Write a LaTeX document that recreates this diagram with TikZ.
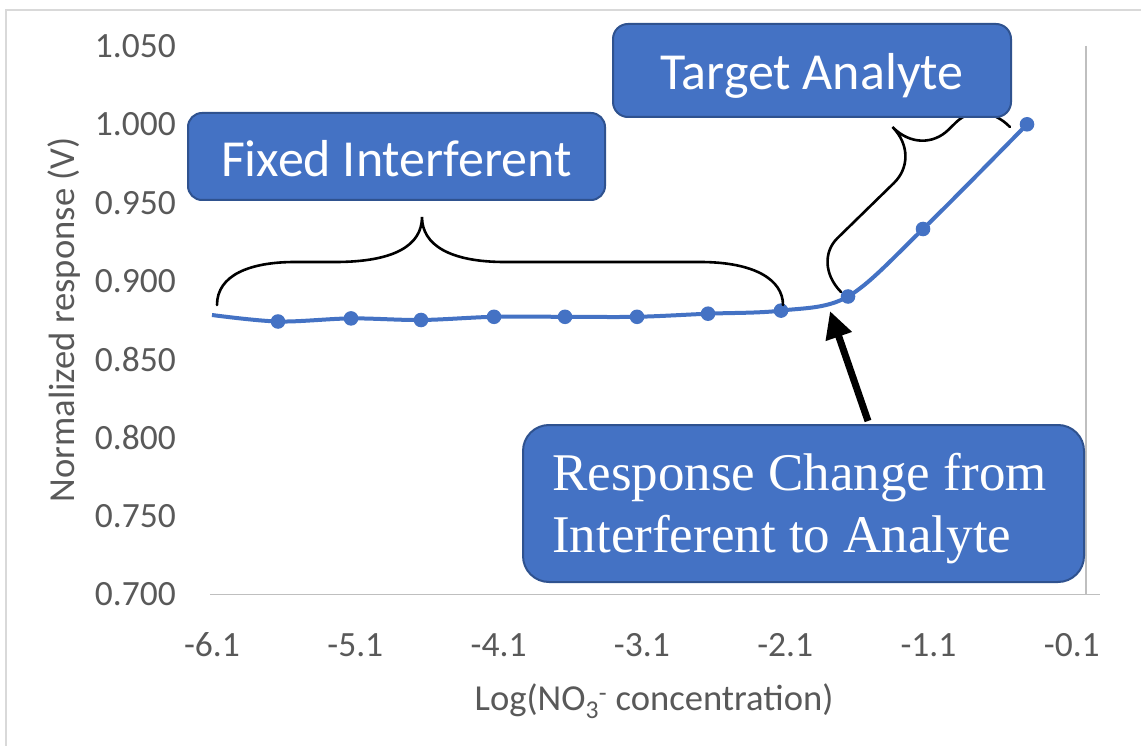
\documentclass[tikz,border=0pt]{standalone}
\usepackage{fontspec}
\setmainfont{Carlito}
\newfontfamily\calloutserif{Liberation Serif}
\usetikzlibrary{arrows.meta}

\definecolor{seriesblue}{HTML}{4472C4}
\definecolor{calloutedge}{HTML}{2F528F}
\definecolor{axisgray}{HTML}{BFBFBF}
\definecolor{framegray}{HTML}{D9D9D9}
\definecolor{labelgray}{HTML}{595959}

\begin{document}
\begin{tikzpicture}[x=1pt,y=-1pt,
  ticklabel/.style={text=labelgray,font=\fontsize{35.5}{42}\selectfont,inner sep=0pt},
  axistitle/.style={text=labelgray,font=\fontsize{36.6}{44}\selectfont,inner sep=0pt},
  callout/.style={draw=calloutedge,line width=2pt,fill=seriesblue,text=white,inner sep=0pt},
  callouttext/.style={text=white,inner sep=0pt},
  bracepen/.style={draw=black,line width=2.6pt,line cap=round},
  seriesline/.style={draw=seriesblue,line width=4pt,line join=round},
  marker/.style={fill=seriesblue},
  axisline/.style={draw=axisgray,line width=1.5pt},
  pointer/.style={draw=black,line width=7pt,-{Triangle[length=27pt,width=26pt]}},
]
\useasboundingbox (0,0) rectangle (1141,746);
\fill[white] (0,0) rectangle (1141,746);

% chart area frame
\draw[framegray,line width=1.6pt] (6,746) -- (6,10) -- (1141,10);

% axis lines
\draw[axisline] (210,594.3) -- (1100,594.3);
\draw[axisline] (1086,46) -- (1086,594.3);

% value axis labels
\foreach \v/\y [count=\i] in {1.050/46,1.000/124.3,0.950/202.7,0.900/281,0.850/359.3,0.800/437.7,0.750/516,0.700/594.3}
  \node[ticklabel,anchor=east] (ytick\i) at (176,\y) {\v};

% category axis labels
\foreach \v [count=\i from 0] in {-6.1,-5.1,-4.1,-3.1,-2.1,-1.1,-0.1}
  \node[ticklabel] (xtick\i) at ({212+143.3*\i},645) {\v};

% axis titles
\node[axistitle,rotate=90] (ytitle) at (64,320) {Normalized response (V)};
\node[axistitle] (xtitle) at (654,701) {Log(NO\textsubscript{3}\textsuperscript{-} concentration)};

% data series
\draw[seriesline] plot[smooth,tension=0.55] coordinates {(212,315) (278,321.5) (351,318.4) (421,320) (494,316.8) (565,316.8) (637,316.8) (708,313.7) (781,310.6) (848,296.5) (923,229) (1027,124.3)};
\foreach \p [count=\i] in {(278,321.5),(351,318.4),(421,320),(494,316.8),(565,316.8),(637,316.8),(708,313.7),(781,310.6),(848,296.5),(923,229),(1027,124.3)}
  \fill[marker] \p circle (7.3);

% brace over the flat part
\draw[bracepen] (217,305) .. controls (217,275) and (250,262) .. (295,262)
  -- (335,262) .. controls (395,262) and (422,245) .. (422,217)
  .. controls (422,245) and (450,262) .. (505,262)
  -- (700,262) .. controls (755,262) and (783,280) .. (783,305);

% brace along the rising part
\begin{scope}[shift={(841,292)},x={(0.716pt,0.699pt)},y={(-0.699pt,0.716pt)}]
  \draw[bracepen] (0,0) .. controls (0,25) and (16,41) .. (35,41)
    -- (114,41) .. controls (135,41) and (152,57) .. (152,82)
    .. controls (152,57) and (169,41) .. (190,41)
    -- (201,41) .. controls (220,41) and (236,25) .. (236,0);
\end{scope}

% arrow towards the transition
\coordinate (arrowtail) at (868,421);
\coordinate (arrowtip) at (830,311);
\draw[pointer] (arrowtail) -- (arrowtip);

% callouts
\node[callout,rounded corners=14pt,minimum width=417pt,minimum height=87pt,
      text height=41pt,text depth=0pt,font=\fontsize{52}{62}\selectfont]
      (fixed) at (396.5,156.5) {Fixed Interferent};
\node[callout,rounded corners=15pt,minimum width=398pt,minimum height=93pt,
      text height=38pt,text depth=0pt,font=\fontsize{52}{62}\selectfont]
      (target) at (812,70.5) {Target Analyte};
\node[callout,rounded corners=26pt,minimum width=561pt,minimum height=157pt]
      (resp) at (803.5,503.5) {};
\node[callouttext,anchor=base west,font=\calloutserif\fontsize{53}{62}\selectfont]
      (respline1) at (552,490) {Response Change from};
\node[callouttext,anchor=base west,font=\calloutserif\fontsize{53}{62}\selectfont]
      (respline2) at (552,552) {Interferent to Analyte};
\end{tikzpicture}
\end{document}
